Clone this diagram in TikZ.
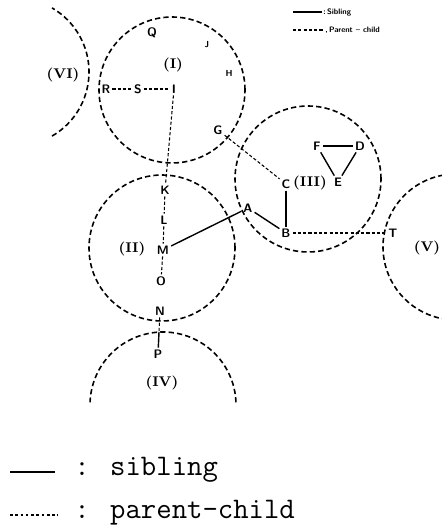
\documentclass[tikz,border=0pt]{standalone}
\usetikzlibrary{positioning}

\begin{document}
\begin{tikzpicture}[x=0.02cm, y=0.02cm,
    lbl/.style={inner sep=1pt, font=\fontsize{7}{8}\selectfont\sffamily\bfseries},
    faint/.style={inner sep=0pt, font=\fontsize{5}{6}\selectfont\sffamily\bfseries},
    region/.style={inner sep=0pt, font=\fontsize{8}{9}\selectfont\bfseries},
    cluster/.style={line width=0.9pt, dash pattern=on 3pt off 1.8pt},
    sib/.style={line width=0.8pt},
    pc/.style={line width=0.6pt, dash pattern=on 1.8pt off 1.2pt},
    keytext/.style={inner sep=0pt, anchor=west, font=\fontsize{4.5}{5}\selectfont\sffamily\bfseries},
    legtext/.style={inner sep=0pt, anchor=west, font=\fontsize{17}{20}\selectfont\ttfamily}]
  \useasboundingbox (0,0) rectangle (442,530);

  %% Clusters
  \draw[cluster] (172,440) circle[radius=73];
  \draw[cluster] (162,282) circle[radius=73];
  \draw[cluster] (308,351) circle[radius=73];
  \draw[cluster] ([shift={(100:73)}]456,283) arc[start angle=100, end angle=260, radius=73];
  \draw[cluster] ([shift={(-60:74)}]15,458) arc[start angle=-60, end angle=60, radius=74];
  \draw[cluster] ([shift={(2:73)}]163,125) arc[start angle=2, end angle=178, radius=73];

  \node[region] (r6) at (63,455) {(VI)};
  \node[region] (r1) at (173,465) {(I)};
  \node[region] (r2) at (132,281) {(II)};
  \node[region] (r3) at (310,347) {(III)};
  \node[region] (r5) at (427,282) {(V)};
  \node[region] (r4) at (162,147) {(IV)};

  %% Objects
  \node[lbl] (Q) at (152,497) {Q};
  \node[faint] (J) at (207,485) {J};
  \node[faint] (H) at (229,457) {H};
  \node[lbl] (R) at (106,441) {R};
  \node[lbl] (S) at (138,441) {S};
  \node[lbl] (I) at (174,441) {I};
  \node[lbl] (G) at (218,400) {G};
  \node[lbl] (C) at (286,346) {C};
  \node[lbl] (F) at (317,384) {F};
  \node[lbl] (D) at (360,384) {D};
  \node[lbl] (E) at (338,348) {E};
  \node[lbl] (A) at (248,322) {A};
  \node[lbl] (B) at (286,297) {B};
  \node[lbl] (T) at (393,297) {T};
  \node[lbl] (K) at (165,340) {K};
  \node[lbl] (L) at (164,310) {L};
  \node[lbl] (M) at (163,280) {M};
  \node[lbl] (O) at (161,249) {O};
  \node[lbl] (N) at (160,219) {N};
  \node[lbl] (P) at (158,176) {P};
  \coordinate (np) at (159,198);

  %% Sibling links
  \draw[sib] (F) -- (D);
  \draw[sib] (F) -- (E);
  \draw[sib] (D) -- (E);
  \draw[sib] (C) -- (B);
  \draw[sib] (A) -- (B);
  \draw[sib] (M) -- (A);
  \draw[sib] (np) -- (P);

  %% Parent-child links
  \draw[pc] (R) -- (S);
  \draw[pc] (S) -- (I);
  \draw[pc] (I) -- (K);
  \draw[pc] (K) -- (L);
  \draw[pc] (L) -- (M);
  \draw[pc] (M) -- (O);
  \draw[pc] (G) -- (C);
  \draw[pc] (B) -- (T);
  \draw[pc] (N) -- (np);

  %% Small key (top right)
  \coordinate (k1a) at (293,518);
  \coordinate (k1b) at (322,518);
  \coordinate (k2a) at (293,500);
  \coordinate (k2b) at (323,500);
  \draw[sib] (k1a) -- (k1b);
  \node[keytext] (k1) at (323,518) {:\,Sibling};
  \draw[pc] (k2a) -- (k2b);
  \node[keytext] (k2) at (325,500) {,\,Parent -- child};

  %% Legend
  \coordinate (l1a) at (10,58);
  \coordinate (l1b) at (55,58);
  \coordinate (l2a) at (10,15);
  \coordinate (l2b) at (58,15);
  \draw[line width=1.3pt] (l1a) -- (l1b);
  \node[legtext] (leg1) at (74,60) {: sibling};
  \draw[line width=1.3pt, dash pattern=on 1.5pt off 1.5pt] (l2a) -- (l2b);
  \node[legtext] (leg2) at (74,17) {: parent-child};
\end{tikzpicture}
\end{document}
